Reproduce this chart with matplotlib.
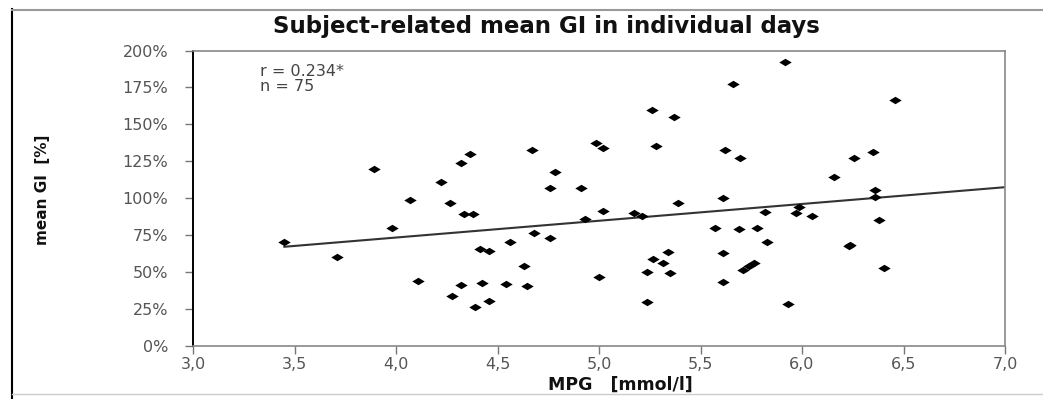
import matplotlib
matplotlib.use("Agg")
import matplotlib.pyplot as plt
import numpy as np
from matplotlib.ticker import FuncFormatter
from matplotlib.lines import Line2D

# ---- data ----
mpg = [3.45, 3.71, 3.89, 3.98, 4.07, 4.11, 4.22, 4.265, 4.277, 4.32,
       4.365, 4.32, 4.335, 4.38, 4.39, 4.415, 4.426, 4.46, 4.46, 4.54,
       4.56, 4.63, 4.645, 4.67, 4.68, 4.76, 4.76, 4.785, 4.91, 4.93,
       4.985, 5.02, 5.0, 5.02, 5.17, 5.21, 5.235, 5.235, 5.26, 5.28,
       5.37, 5.39, 5.267, 5.34, 5.315, 5.35, 5.57, 5.61, 5.62, 5.66,
       5.695, 5.61, 5.61, 5.69, 5.78, 5.82, 5.83, 5.71, 5.74, 5.765,
       5.916, 5.93, 5.987, 5.97, 6.05, 6.16, 6.23, 6.257, 6.35, 6.36,
       6.36, 6.38, 6.405, 6.46, 6.235]
mean_gi = [70, 60, 120, 80, 99, 44, 111, 97, 33.5, 124,
           130, 41, 89, 89, 26.4, 65.5, 42.3, 64.4, 30, 41.6,
           70.5, 54.2, 40.3, 132.7, 76.2, 72.8, 106.7, 117.8, 107, 85.7,
           137.6, 134.2, 46.6, 91.3, 89.8, 88.1, 50.2, 29.4, 159.8, 135.4,
           155, 96.5, 58.8, 63.3, 55.9, 49.1, 79.6, 100.4, 132.7, 177.6,
           127.5, 63, 43.4, 78.9, 79.6, 90.8, 70.5, 51.3, 54, 56,
           192, 28, 94.2, 90.2, 88.2, 114.2, 67.8, 127.3, 131.3, 105.8,
           100.6, 85.4, 52.5, 166.6, 68]
fit_x = [3.45, 7.0]
fit_slope = 11.37
fit_intercept = 27.8
x_ticks = [3.0, 3.5, 4.0, 4.5, 5.0, 5.5, 6.0, 6.5, 7.0]
y_ticks = [0, 25, 50, 75, 100, 125, 150, 175, 200]
title = "Subject-related mean GI in individual days"
stats_text = "r = 0.234*\nn = 75"

W, H = 1043, 399
fig = plt.figure(figsize=(W / 100, H / 100), dpi=100)
fig.patch.set_facecolor("white")

ax = fig.add_axes([193 / W, (H - 345.7) / H, (1005 - 193) / W, (345.7 - 50.5) / H])

marker = [(-1, 0), (0, 0.6), (1, 0), (0, -0.6), (-1, 0)]
ax.scatter(mpg, mean_gi, marker=marker, s=80, color="black", linewidths=0, zorder=3)

fx = np.array(fit_x)
ax.plot(fx, fit_intercept + fit_slope * fx, color="#333333", lw=1.5, zorder=2)

ax.set_xlim(3.0, 7.0)
ax.set_ylim(0, 200)
ax.set_xticks(x_ticks)
ax.set_yticks(y_ticks)
ax.xaxis.set_major_formatter(FuncFormatter(lambda v, p: f"{v:.1f}".replace(".", ",")))
ax.yaxis.set_major_formatter(FuncFormatter(lambda v, p: f"{v:.0f}%"))
ax.tick_params(axis="both", direction="out", color="#777777", labelcolor="#555555",
               labelsize=11.5, length=6, width=1)
ax.tick_params(axis="y", pad=12)
ax.tick_params(axis="x", pad=2)

ax.spines["left"].set_color("black")
ax.spines["left"].set_linewidth(1.4)
for s in ["top", "right", "bottom"]:
    ax.spines[s].set_color("#888888")
    ax.spines[s].set_linewidth(1.2)

ax.text(0.083, 0.955, stats_text, transform=ax.transAxes, ha="left", va="top",
        fontsize=11.5, color="#444444", linespacing=1.0)

fig.text(546 / W, 1 - 27 / H, title, ha="center", va="center",
         fontsize=16.5, fontweight="bold", color="#111111")
fig.text(620 / W, 1 - 385 / H, "MPG   [mmol/l]", ha="center", va="center",
         fontsize=12.5, fontweight="bold", color="#111111")
fig.text(43 / W, 1 - 190 / H, "mean GI  [%]", ha="center", va="center", rotation=90,
         fontsize=11, fontweight="bold", color="#111111")

# outer frame of the reference picture
fig.add_artist(Line2D([12 / W, 12 / W], [0, 1 - 9 / H], transform=fig.transFigure,
                      color="black", lw=1.5))
fig.add_artist(Line2D([12 / W, 1], [1 - 9.5 / H, 1 - 9.5 / H], transform=fig.transFigure,
                      color="#999999", lw=1.5))
fig.add_artist(Line2D([12 / W, 1], [1 - 394 / H, 1 - 394 / H], transform=fig.transFigure,
                      color="#cccccc", lw=1.0))

fig.savefig("out.png", dpi=100)
